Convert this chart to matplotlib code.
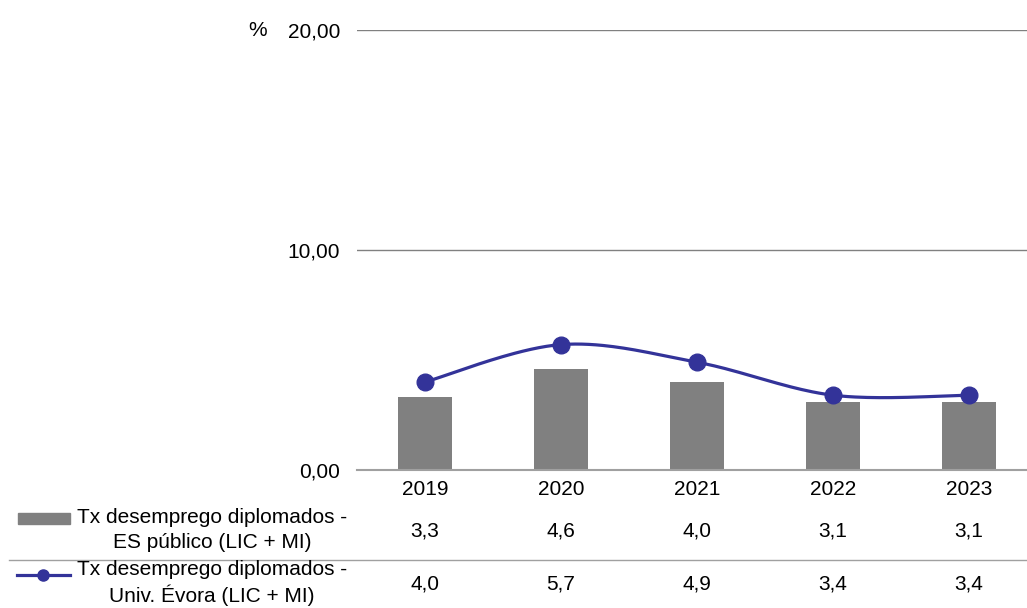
import numpy as np
import matplotlib
matplotlib.use("Agg")
import matplotlib.pyplot as plt
from matplotlib.patches import Rectangle
from matplotlib.lines import Line2D

years = ["2019", "2020", "2021", "2022", "2023"]
es_publico = [3.3, 4.6, 4.0, 3.1, 3.1]
univ_evora = [4.0, 5.7, 4.9, 3.4, 3.4]
yticks = [0, 10, 20]
label_es = "Tx desemprego diplomados -\nES público (LIC + MI)"
label_ue = "Tx desemprego diplomados -\nUniv. Évora (LIC + MI)"

plt.rcParams['font.family'] = ['Liberation Sans', 'DejaVu Sans']
FS = 15
W, H = 1027, 608
fig = plt.figure(figsize=(W / 100, H / 100), dpi=100)

left_px, right_px, top_px, bot_px = 357, 1037, 30, 470
ax = fig.add_axes([left_px / W, 1 - bot_px / H, (right_px - left_px) / W, (bot_px - top_px) / H])
ax.set_xlim(-0.5, 4.5)
ax.set_ylim(0, 20)
x = np.arange(len(years))

bar_color = "#808080"
line_color = "#333399"
ax.bar(x, es_publico, width=0.4, color=bar_color, zorder=2)

# Excel-like smoothed line (Bezier through points)
def smooth(xs, ys, n=40):
    xs = np.asarray(xs, float); ys = np.asarray(ys, float)
    px, py = [], []
    for i in range(len(xs) - 1):
        p0 = np.array([xs[max(i - 1, 0)], ys[max(i - 1, 0)]])
        p1 = np.array([xs[i], ys[i]])
        p2 = np.array([xs[i + 1], ys[i + 1]])
        p3 = np.array([xs[min(i + 2, len(xs) - 1)], ys[min(i + 2, len(xs) - 1)]])
        c1 = p1 + (p2 - p0) / 6
        c2 = p2 - (p3 - p1) / 6
        t = np.linspace(0, 1, n)[:, None]
        pts = (1 - t) ** 3 * p1 + 3 * (1 - t) ** 2 * t * c1 + 3 * (1 - t) * t ** 2 * c2 + t ** 3 * p2
        px.extend(pts[:, 0]); py.extend(pts[:, 1])
    return px, py

sx, sy = smooth(x, univ_evora)
ax.plot(sx, sy, color=line_color, lw=2.3, zorder=3, solid_capstyle='round')
ax.plot(x, univ_evora, 'o', color=line_color, ms=12, zorder=4)

ax.set_yticks(yticks)
ax.set_yticklabels([f"{v:.2f}".replace(".", ",") for v in yticks], fontsize=FS)
ax.yaxis.grid(True, color="#808080", lw=1, zorder=0)
ax.set_axisbelow(True)
for s in ["top", "right", "left"]:
    ax.spines[s].set_visible(False)
ax.spines["bottom"].set_color("#a0a0a0")
ax.spines["bottom"].set_linewidth(1.5)
ax.tick_params(axis='y', length=0, pad=12)
ax.tick_params(axis='x', length=0, pad=7)
ax.set_xticks(x)
ax.set_xticklabels(years, fontsize=FS)

fig.text(248 / W, 1 - 31 / H, "%", fontsize=FS, ha='left', va='center')

# data table below
def fy(py): return 1 - py / H
row_y = [531, 584]
for i, xv in enumerate(x):
    xp = ax.transData.transform((xv, 0))[0] / W
    fig.text(xp, fy(row_y[0]), f"{es_publico[i]:.1f}".replace(".", ","), fontsize=FS, ha='center', va='center')
    fig.text(xp, fy(row_y[1]), f"{univ_evora[i]:.1f}".replace(".", ","), fontsize=FS, ha='center', va='center')

fig.text(212 / W, fy(530), label_es, fontsize=FS, ha='center', va='center', linespacing=1.35)
fig.text(212 / W, fy(583), label_ue, fontsize=FS, ha='center', va='center', linespacing=1.35)

fig.patches.append(Rectangle((18 / W, fy(524)), 52 / W, 11 / H, transform=fig.transFigure, color=bar_color))
fig.lines.append(Line2D([17 / W, 70 / W], [fy(575), fy(575)], transform=fig.transFigure, color=line_color, lw=2.3))
fig.lines.append(Line2D([43 / W], [fy(575)], transform=fig.transFigure, color=line_color, marker='o', ms=8))
fig.lines.append(Line2D([9 / W, 1.0], [fy(560), fy(560)], transform=fig.transFigure, color="#a0a0a0", lw=1))

fig.savefig("out.png", dpi=100)
